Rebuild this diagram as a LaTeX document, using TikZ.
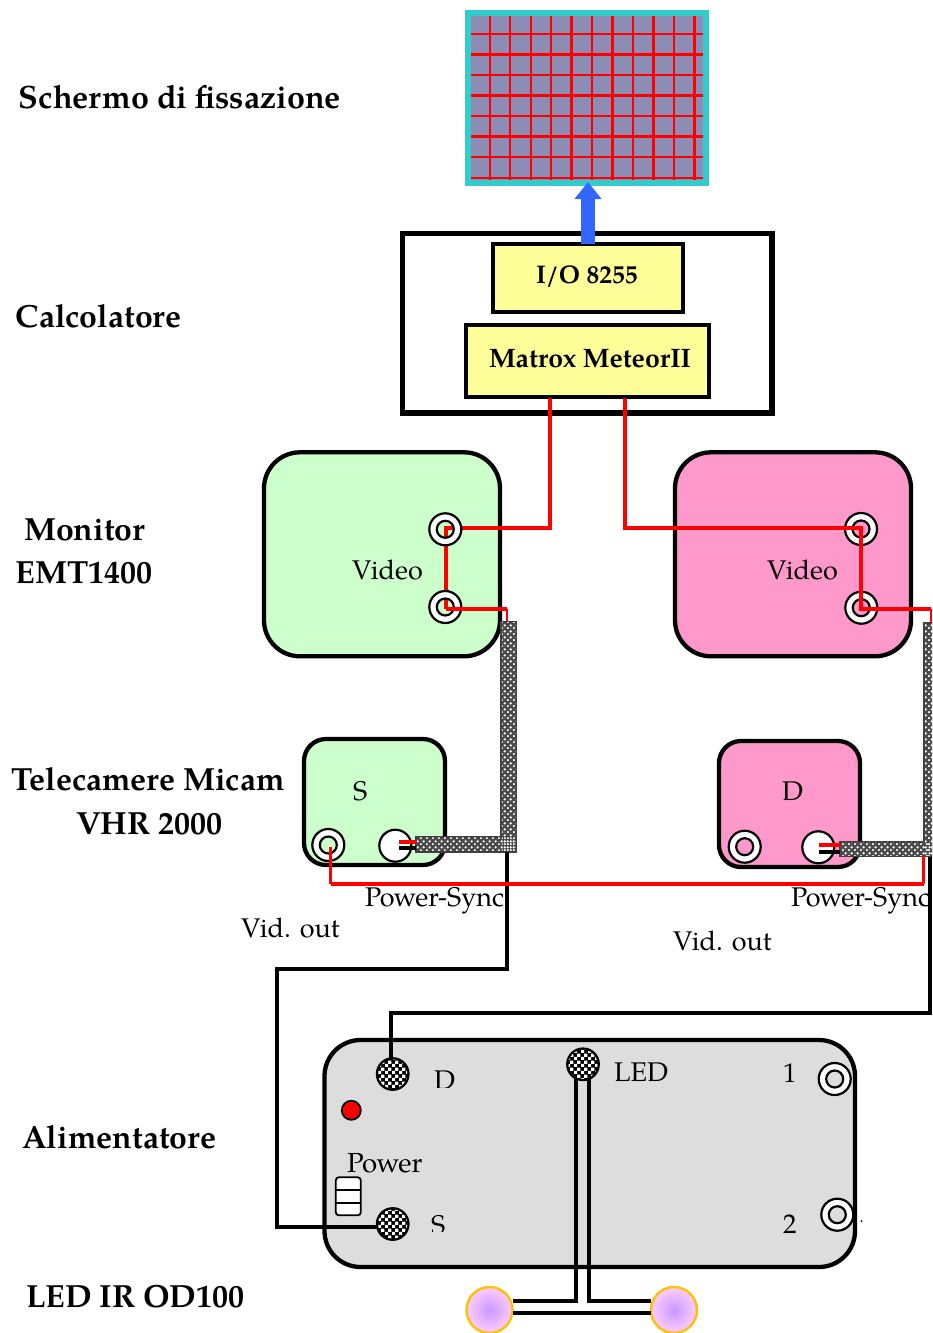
\documentclass[tikz,border=0pt]{standalone}
\usepackage{fontspec}
\setmainfont{TeX Gyre Pagella}
\usetikzlibrary{patterns,arrows.meta,shadings}
\definecolor{cyanframe}{HTML}{33CCCC}
\definecolor{slate}{HTML}{8C8CB4}
\definecolor{boxyellow}{HTML}{FFFF99}
\definecolor{mint}{HTML}{CCFFCC}
\definecolor{rosy}{HTML}{FF99CC}
\definecolor{psugray}{HTML}{DDDDDD}
\definecolor{bluearrow}{HTML}{3366FF}
\definecolor{ledcore}{HTML}{C899FF}
\definecolor{ledrim}{HTML}{FFCCFF}
\definecolor{ledline}{HTML}{FFC000}
\definecolor{wirered}{HTML}{FF0000}
\pgfdeclarepatternformonly{cabledots}{\pgfqpoint{-1pt}{-1pt}}{\pgfqpoint{5.2pt}{5.2pt}}{\pgfqpoint{6.2pt}{6.2pt}}{%
  \pgfpathcircle{\pgfqpoint{0pt}{0pt}}{1.35pt}%
  \pgfpathcircle{\pgfqpoint{3.1pt}{3.1pt}}{1.35pt}%
  \pgfusepath{fill}%
}
\pgfdeclarepatternformonly{finechecker}{\pgfqpoint{0pt}{0pt}}{\pgfqpoint{7pt}{7pt}}{\pgfqpoint{7pt}{7pt}}{%
  \pgfpathrectangle{\pgfqpoint{0pt}{0pt}}{\pgfqpoint{3.5pt}{3.5pt}}%
  \pgfpathrectangle{\pgfqpoint{3.5pt}{3.5pt}}{\pgfqpoint{3.5pt}{3.5pt}}%
  \pgfusepath{fill}%
}
\tikzset{
  box/.style={rectangle,draw=black,inner sep=0,outer sep=0},
  rbox/.style={rectangle,rounded corners=#1,draw=black,inner sep=0,outer sep=0,line width=4.3pt},
  txt/.style={inner sep=0,outer sep=0,anchor=base west,font=\fontsize{27}{32}\selectfont,text=black},
  head/.style={inner sep=0,outer sep=0,anchor=base west,font=\fontsize{32}{38}\selectfont\bfseries,text=black},
  redw/.style={draw=wirered,line width=4pt,line join=miter},
  redthin/.style={draw=wirered,line width=2.2pt},
  blackw/.style={draw=black,line width=4pt,line join=miter},
  cable/.style={rectangle,draw=black!75,line width=1.6pt,fill=black!70,inner sep=0,outer sep=0},
  cablepat/.style={pattern=cabledots,pattern color=white},
  holder/.style={circle,minimum size=32pt,inner sep=0,outer sep=0},
  ringline/.style={draw=black,line width=2.2pt,fill=white,even odd rule},
  disc/.style={circle,draw=black,line width=2.2pt,fill=white,minimum size=32pt,inner sep=0,outer sep=0},
  checker/.style={circle,draw=black,line width=1.8pt,fill=black,minimum size=32pt,inner sep=0,outer sep=0},
  led/.style={circle,draw=ledline,line width=2.4pt,inner color=ledcore,outer color=ledrim,minimum size=46pt,inner sep=0,outer sep=0}
}
\newcommand{\ringport}[2]{%
  \node[holder] (#1) at (#2) {};
  \path[ringline] (#1.center) circle[radius=16pt] (#1.center) circle[radius=8.5pt];
}
\newcommand{\checkport}[2]{%
  \node[checker] (#1) at (#2) {};
  \path[pattern=finechecker,pattern color=white] (#1.center) circle[radius=14.5pt];
}
\begin{document}
\begin{tikzpicture}[x=1pt,y=-1pt]
\path[use as bounding box] (0,0) rectangle (932,1333);
\clip (0,0) rectangle (932,1333);

% fixation screen
\node[rectangle,fill=cyanframe,inner sep=0,outer sep=0,minimum width=244pt,minimum height=176pt] (screen) at (587,98) {};
\node[rectangle,fill=slate,inner sep=0,outer sep=0,minimum width=232pt,minimum height=163.5pt] (grid) at (587,97.8) {};
\foreach \gx in {489.7,510.2,530.7,551.1,571.6,592,612.5,633,653.4,673.9,694.3}
  \draw[wirered,line width=2.4pt] (\gx,16) -- (\gx,179.5);
\foreach \gy in {34,54.4,75,95.4,116,136.6,157.2,177.7}
  \draw[wirered,line width=2.4pt] (471,\gy) -- (703,\gy);

% computer
\node[box,line width=5.2pt,fill=white,minimum width=369.5pt,minimum height=179.5pt] (calc) at (587.25,323.25) {};
\node[box,line width=4pt,fill=boxyellow,minimum width=190pt,minimum height=68.5pt] (io) at (587.5,277.75) {};
\node[box,line width=4pt,fill=boxyellow,minimum width=243pt,minimum height=71.5pt] (matrox) at (587,360.75) {};
\node[head,font=\fontsize{25.5}{32}\selectfont\bfseries] (iotxt) at (536,283) {I/O 8255};
\node[head,font=\fontsize{26.7}{32}\selectfont\bfseries] (mattxt) at (489,367) {Matrox MeteorII};

% arrow
\coordinate (arrowbase) at (588,243.7);
\coordinate (arrowtip) at (588,182);
\draw[draw=bluearrow,line width=13.7pt,-{Triangle[length=17pt,width=26pt,fill=bluearrow]}] (arrowbase) -- (arrowtip);

% monitors
\node[rbox=36pt,fill=mint,minimum width=236pt,minimum height=204pt] (monS) at (382,554.3) {};
\node[rbox=36pt,fill=rosy,minimum width=236pt,minimum height=204pt] (monD) at (793,554.3) {};
\node[txt] (vidS) at (352,579) {Video};
\node[txt] (vidD) at (767,579) {Video};

% left monitor wiring, ports above the wire
\coordinate (mL) at (550,398);
\coordinate (mLc) at (550,527.7);
\coordinate (pSa) at (445.6,527.7);
\coordinate (pSb) at (445.6,609);
\draw[redw] (mL) -- (mLc) -- (pSa) -- (pSb);
\ringport{mSa}{445.3,529.3}
\ringport{mSb}{445.3,607}
\coordinate (hS) at (507.3,609);
\coordinate (hSd) at (507.3,622);
\draw[redw] (pSb) -- (hS);
\draw[redthin] (hS) -- (hSd);

% right monitor wiring, wire above the ports
\ringport{mDa}{861,529}
\ringport{mDb}{861.3,607.7}
\coordinate (mR) at (625,398);
\coordinate (mRc) at (625,527.7);
\coordinate (pDa) at (860.7,527.7);
\coordinate (pDb) at (860.7,609);
\coordinate (hD) at (931,609);
\coordinate (hDd) at (931,624);
\draw[redw] (mR) -- (mRc) -- (pDa) -- (pDb) -- (hD);
\draw[redthin] (hD) -- (hDd);

% cameras
\node[rbox=22pt,fill=mint,minimum width=141pt,minimum height=126pt] (camS) at (374.5,802) {};
\node[rbox=22pt,fill=rosy,minimum width=141pt,minimum height=126pt] (camD) at (789.5,804) {};
\node[txt] (sS) at (353,800) {S};
\node[txt] (sD) at (782,800) {D};
\ringport{vidoutS}{328.3,845}
\ringport{vidoutD}{744.7,846.7}
\node[disc] (powS) at (395.3,845.7) {};
\node[disc] (powD) at (818.3,847.3) {};

% cables
\node[cable,minimum width=15.7pt,minimum height=230pt] (cabSv) at (508.8,736.7) {};
\node[cable,minimum width=15.7pt,minimum height=233pt] (cabDv) at (932,739.5) {};
\node[cable,minimum width=100.7pt,minimum height=15pt] (cabSh) at (466.3,844.2) {};
\node[cable,minimum width=100pt,minimum height=14.7pt] (cabDh) at (890,849.3) {};
\foreach \c in {cabSv,cabDv,cabSh,cabDh}{
  \path[cablepat] ([shift={(.8pt,.8pt)}]\c.south west) rectangle ([shift={(-.8pt,-.8pt)}]\c.north east);
}

% stubs into cables
\coordinate (stSr) at (399.3,841.7);
\coordinate (stSb) at (399.3,848.3);
\coordinate (stDr) at (819,845);
\coordinate (stDb) at (819,851.7);
\draw[redw] (stSr) -- (cabSh.west |- stSr);
\draw[blackw] (stSb) -- (cabSh.west |- stSb);
\draw[redw] (stDr) -- (cabDh.west |- stDr);
\draw[blackw] (stDb) -- (cabDh.west |- stDb);

% texts near cameras
\begin{scope}
  \clip (340,880) rectangle (504,925);
  \node[txt] (psS) at (365,906) {Power-Sync};
\end{scope}
\begin{scope}
  \clip (770,880) rectangle (928,925);
  \node[txt] (psD) at (791,906) {Power-Sync};
\end{scope}
\node[txt] (voS) at (241,937) {Vid. out};
\node[txt] (voD) at (673,950) {Vid. out};

% power supply
\node[rbox=36pt,fill=psugray,minimum width=530.5pt,minimum height=227pt] (psu) at (589.75,1153.5) {};
\checkport{pD}{392.7,1074}
\checkport{pS}{392.7,1224}
\checkport{pLed}{583,1064.3}
\ringport{pOne}{834.7,1079}
\ringport{pTwo}{837.3,1214.7}
\node[circle,draw=black,line width=1.8pt,fill=wirered,minimum size=19pt,inner sep=0,outer sep=0] (lamp) at (351.3,1110.3) {};
\node[rectangle,rounded corners=3pt,draw=black,line width=1.8pt,fill=white,minimum width=25pt,minimum height=38pt,inner sep=0,outer sep=0] (switch) at (348.3,1196.3) {};
\draw[black,line width=1.8pt] ([yshift=-12.7pt]switch.north west) -- ([yshift=-12.7pt]switch.north east);
\draw[black,line width=1.8pt] ([yshift=12.7pt]switch.south west) -- ([yshift=12.7pt]switch.south east);
\node[fill=black,circle,inner sep=0,minimum size=2pt] (speck) at (861.5,1221) {};
\begin{scope}
  \clip (420,1060) rectangle (460,1087.5);
  \node[txt] (tD) at (434,1089) {D};
\end{scope}
\begin{scope}
  \clip (420,1200) rectangle (460,1231.7);
  \node[txt] (tS) at (431,1234) {S};
\end{scope}
\node[txt,font=\fontsize{27.6}{32}\selectfont] (tPower) at (347,1172) {Power};
\node[txt] (tLed) at (614,1081) {LED};
\node[txt] (tOne) at (783,1082) {1};
\node[txt] (tTwo) at (783,1233) {2};

% black supply lines
\coordinate (bS1) at (507,969);
\coordinate (bS2) at (277,969);
\coordinate (bS3) at (277,1227);
\coordinate (bS4) at (378,1227);
\draw[blackw] (cabSh.south -| bS1) -- (bS1) -- (bS2) -- (bS3) -- (bS4);
\coordinate (bD1) at (930.3,1013);
\coordinate (bD2) at (391,1013);
\coordinate (bD3) at (391,1060);
\draw[blackw] (cabDh.south -| bD1) -- (bD1) -- (bD2) -- (bD3);

% video-out red line
\coordinate (rv1) at (330.7,883.7);
\coordinate (rv2) at (923.7,883.7);
\coordinate (rv3) at (923.7,856);
\coordinate (rv0) at (330.7,846.7);
\draw[draw=wirered,line width=2.6pt,line join=miter] (rv0) -- (rv1);
\draw[redw] (rv1) -- (rv2);
\draw[draw=wirered,line width=2.6pt,line join=miter] (rv2) -- (rv3);

% LEDs
\node[led] (ledL) at (489.5,1310) {};
\node[led] (ledR) at (674,1310) {};
\coordinate (w1a) at (576.3,1078);
\coordinate (w1b) at (576.3,1301.3);
\coordinate (w2a) at (589,1078);
\coordinate (w2b) at (589,1301.3);
\draw[blackw] (w1a) -- (w1b) -- (ledL.east |- w1b);
\draw[blackw] (w2a) -- (w2b) -- (ledR.west |- w2b);
\coordinate (w3) at (581,1313);
\draw[blackw] (ledL.east |- w3) -- (ledR.west |- w3);

% heads
\node[head,font=\fontsize{32.3}{38}\selectfont\bfseries] (h1) at (19,108) {Schermo di fissazione};
\node[head] (h2) at (16,327) {Calcolatore};
\node[head] (h3) at (24,540) {Monitor};
\node[head] (h4) at (16,583) {EMT1400};
\node[head] (h5) at (11,790) {Telecamere Micam};
\node[head] (h6) at (76,834) {VHR 2000};
\node[head] (h7) at (22,1148) {Alimentatore};
\node[head] (h8) at (26,1307) {LED IR OD100};
\end{tikzpicture}
\end{document}
